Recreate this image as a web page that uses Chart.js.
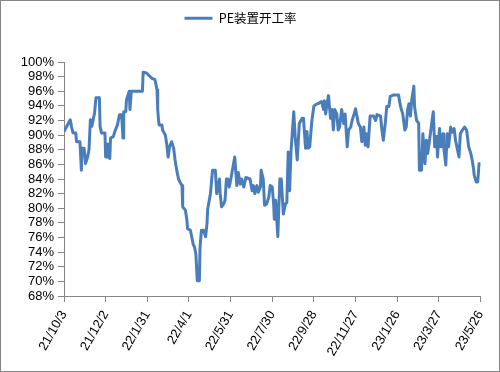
<!DOCTYPE html>
<html>
<head>
<meta charset="utf-8">
<script src="https://cdn.jsdelivr.net/npm/chart.js@4/dist/chart.umd.min.js"></script>
<style>
  body { margin: 0; background: #fff; }
  canvas { display: block; }
</style>
</head>
<body>
<canvas id="peChart" width="500" height="372"></canvas>
<script>
// days since 2021-10-03
const dayOffsets = [0,9,11,13,17,18,23,25,26,29,31,34,36,38,40,42,44,46,51,52,54,59,60,62,63,66,67,71,74,77,80,83,85,86,89,90,94,95,97,113,114,119,126,131,134,135,136,137,141,142,146,148,150,152,155,158,160,163,165,167,170,171,175,177,178,182,184,186,188,190,192,195,196,198,201,204,206,207,211,214,218,220,224,225,227,230,232,234,236,238,240,242,246,249,251,254,256,259,262,268,271,273,275,278,280,283,284,287,289,292,295,297,300,302,303,305,308,311,313,316,319,321,323,325,327,331,333,336,339,343,345,348,350,352,354,357,360,363,366,371,374,375,377,379,381,384,386,388,390,393,395,397,400,403,405,408,410,413,415,418,420,422,424,427,429,432,434,436,438,441,446,449,451,456,458,460,463,465,468,470,475,482,484,486,488,491,493,495,497,499,501,504,505,508,511,512,515,517,520,522,524,527,529,532,534,537,538,541,543,546,547,550,552,554,557,559,562,564,566,569,571,574,577,580,583,586,588,590,591,594,596,598,599];

// PE装置开工率 (%)
const peRates = [90.5,92.1,91.1,90.3,90.3,89.1,89.1,85.2,88.2,88.2,86.1,87.0,88.0,92.1,91.2,92.1,93.0,95.1,95.1,91.2,90.3,90.3,87.0,87.0,88.8,86.8,89.6,89.8,90.7,91.4,92.8,92.8,89.6,93.2,93.2,94.8,96.0,93.5,96.0,96.0,98.6,98.5,97.8,97.6,96.2,93.5,92.3,91.4,91.4,90.7,90.0,88.8,87.0,88.4,89.1,88.2,86.6,84.9,84.0,83.6,83.1,80.2,79.7,78.4,77.2,77.0,76.1,75.1,74.7,73.7,70.1,70.1,74.7,77.0,77.0,76.1,77.9,79.9,82.0,85.2,85.2,82.0,84.0,82.0,80.2,80.6,81.1,84.0,84.0,82.9,83.8,84.9,87.0,83.1,84.9,83.3,84.0,82.9,84.2,84.0,82.4,83.1,82.0,83.1,82.2,82.9,85.2,84.0,80.4,80.6,81.5,83.1,82.9,80.6,78.5,81.1,76.1,84.0,84.0,79.2,80.6,80.8,87.7,82.4,87.7,93.2,89.8,86.6,91.6,92.3,92.3,88.2,90.5,88.2,88.4,91.9,94.0,94.2,94.3,94.6,93.5,94.7,92.9,94.4,95.4,92.3,93.5,90.7,93.5,92.9,90.7,91.1,93.5,91.6,92.9,88.4,90.7,91.1,92.0,92.9,93.6,92.6,91.6,91.1,89.1,91.1,88.6,90.2,88.4,92.6,92.6,92.0,92.8,92.6,90.7,89.3,91.8,93.9,93.9,95.3,95.5,95.5,94.3,93.5,92.9,90.7,91.1,93.5,94.3,92.6,94.8,96.7,93.9,92.0,91.6,85.2,85.2,90.2,86.1,89.3,87.5,89.6,91.1,93.2,88.4,89.8,87.0,90.9,88.4,90.2,88.4,85.9,90.2,88.4,91.1,90.4,90.9,89.3,88.4,87.0,90.2,90.7,91.1,90.7,88.4,87.5,86.6,85.4,84.5,83.6,83.6,86.1,85.9];

const tickLabels = ['21/10/3','21/12/2','22/1/31','22/4/1','22/5/31','22/7/30','22/9/28','22/11/27','23/1/26','23/3/27','23/5/26'];

const axisGray = '#868686';
const lineBlue = '#4a7ebb';

const points = dayOffsets.map(function (d, i) { return { x: d, y: peRates[i] }; });

// push the plot area down below the legend
const legendGap = {
  id: 'legendGap',
  beforeInit: function (chart) {
    const fit = chart.legend.fit;
    chart.legend.fit = function () {
      fit.bind(chart.legend)();
      this.height = 62;
    };
  }
};

// white background and outer frame
const frame = {
  id: 'frame',
  beforeDraw: function (chart) {
    const c = chart.ctx;
    c.save();
    c.fillStyle = '#fff';
    c.fillRect(0, 0, chart.width, chart.height);
    c.restore();
  },
  afterDraw: function (chart) {
    const c = chart.ctx;
    c.save();
    c.strokeStyle = axisGray;
    c.lineWidth = 1;
    c.strokeRect(0.5, 0.5, chart.width - 1, chart.height - 1);
    c.restore();
  }
};

const ctx = document.getElementById('peChart').getContext('2d');
new Chart(ctx, {
  type: 'line',
  data: {
    datasets: [{
      label: 'PE装置开工率',
      data: points,
      borderColor: lineBlue,
      backgroundColor: lineBlue,
      borderWidth: 3,
      borderJoinStyle: 'round',
      pointRadius: 0,
      tension: 0
    }]
  },
  options: {
    responsive: false,
    animation: false,
    layout: { padding: { left: 0, right: 19, top: 0, bottom: 0 } },
    plugins: {
      tooltip: { enabled: false },
      legend: {
        position: 'top',
        labels: {
          usePointStyle: true,
          pointStyle: 'line',
          pointStyleWidth: 28,
          padding: 12,
          color: '#000',
          font: { family: '"Noto Sans CJK SC", "Liberation Sans", sans-serif', size: 12.5 }
        }
      }
    },
    scales: {
      x: {
        type: 'linear',
        min: 0,
        max: 600,
        afterFit: function (scale) { scale.height = 76; },
        border: { display: true, color: axisGray, width: 1 },
        grid: { drawOnChartArea: false, drawTicks: true, tickLength: 6, color: axisGray },
        ticks: {
          stepSize: 60,
          autoSkip: false,
          maxRotation: 60,
          minRotation: 60,
          padding: 6,
          color: '#000',
          font: { family: '"Liberation Sans", sans-serif', size: 13 },
          callback: function (v) { return tickLabels[Math.round(v / 60)]; }
        }
      },
      y: {
        min: 68,
        max: 100,
        afterFit: function (scale) { scale.width = 64; },
        border: { display: true, color: axisGray, width: 1 },
        grid: { drawOnChartArea: false, drawTicks: true, tickLength: 6, color: axisGray },
        ticks: {
          stepSize: 2,
          autoSkip: false,
          padding: 4,
          color: '#000',
          font: { family: '"Liberation Sans", sans-serif', size: 13 },
          callback: function (v) { return v + '%'; }
        }
      }
    }
  },
  plugins: [legendGap, frame]
});
</script>
</body>
</html>
